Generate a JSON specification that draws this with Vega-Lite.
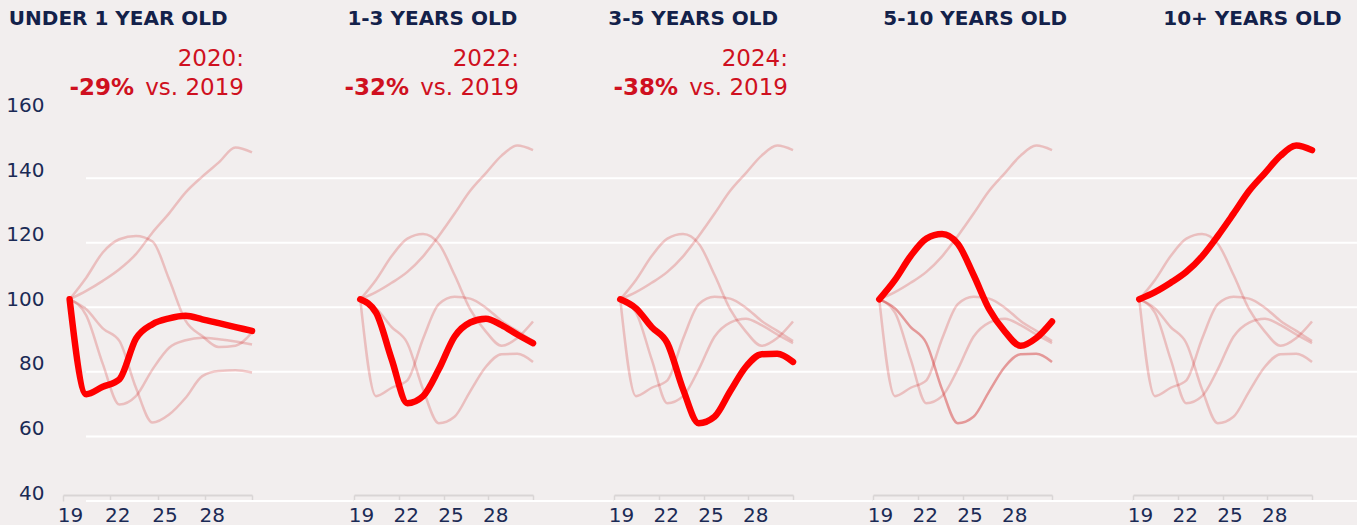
{
  "$schema": "https://vega.github.io/schema/vega-lite/v6.json",
  "background": "#F2EEEE",
  "padding": {"left": 5, "top": 9, "right": 0, "bottom": 0},
  "bounds": "flush",
  "spacing": 0,
  "config": {
    "view": {"stroke": null},
    "font": "DejaVu Sans",
    "title": {"anchor": "start", "font": "DejaVu Sans", "fontSize": 20, "fontWeight": "bold", "color": "#13214A", "offset": 12, "baseline": "alphabetic", "frame": "bounds"},
    "axisX": {"domainColor": "#D9D5D5", "domainWidth": 2, "tickColor": "#D9D5D5", "tickWidth": 1.5, "tickSize": 6, "labelFont": "DejaVu Sans", "labelFontSize": 20, "labelColor": "#1B2A55", "labelPadding": 4, "labelOffset": 7, "grid": false, "labelFlush": false, "labelOverlap": false, "labelBaseline": "top", "offset": 2},
    "axisY": {"domain": false, "ticks": false, "grid": false, "labelFont": "DejaVu Sans", "labelFontSize": 20, "labelColor": "#1B2A55", "labelPadding": 42, "labelFlush": false, "labelOverlap": false, "labelBaseline": "middle"}
  },
  "datasets": {
    "grid": [{"level": 40}, {"level": 60}, {"level": 80}, {"level": 100}, {"level": 120}, {"level": 140}],
    "notes": [
      {"age": "Under 1", "year": "2020:", "change": "-29%", "versus": "vs. 2019"},
      {"age": "1-3", "year": "2022:", "change": "-32%", "versus": "vs. 2019"},
      {"age": "3-5", "year": "2024:", "change": "-38%", "versus": "vs. 2019"}
    ],
    "p1": [
      {"age": "Under 1", "year": 2019, "index": 100}, {"age": "Under 1", "year": 2020, "index": 70.6}, {"age": "Under 1", "year": 2021, "index": 72.9}, {"age": "Under 1", "year": 2022, "index": 75.2}, {"age": "Under 1", "year": 2023, "index": 87.8}, {"age": "Under 1", "year": 2024, "index": 92.3}, {"age": "Under 1", "year": 2025, "index": 94.1}, {"age": "Under 1", "year": 2026, "index": 94.9}, {"age": "Under 1", "year": 2027, "index": 93.8}, {"age": "Under 1", "year": 2028, "index": 92.6}, {"age": "Under 1", "year": 2029, "index": 91.4}, {"age": "Under 1", "year": 2030, "index": 90.2},
      {"age": "1-3", "year": 2019, "index": 100}, {"age": "1-3", "year": 2020, "index": 95}, {"age": "1-3", "year": 2021, "index": 80}, {"age": "1-3", "year": 2022, "index": 67.4}, {"age": "1-3", "year": 2023, "index": 70}, {"age": "1-3", "year": 2024, "index": 78.3}, {"age": "1-3", "year": 2025, "index": 85}, {"age": "1-3", "year": 2026, "index": 87.3}, {"age": "1-3", "year": 2027, "index": 88.1}, {"age": "1-3", "year": 2028, "index": 87.6}, {"age": "1-3", "year": 2029, "index": 86.9}, {"age": "1-3", "year": 2030, "index": 86},
      {"age": "3-5", "year": 2019, "index": 100}, {"age": "3-5", "year": 2020, "index": 96.9}, {"age": "3-5", "year": 2021, "index": 91}, {"age": "3-5", "year": 2022, "index": 87.1}, {"age": "3-5", "year": 2023, "index": 72.6}, {"age": "3-5", "year": 2024, "index": 61.8}, {"age": "3-5", "year": 2025, "index": 64.3}, {"age": "3-5", "year": 2026, "index": 69.5}, {"age": "3-5", "year": 2027, "index": 76.2}, {"age": "3-5", "year": 2028, "index": 77.8}, {"age": "3-5", "year": 2029, "index": 78}, {"age": "3-5", "year": 2030, "index": 77.3},
      {"age": "5-10", "year": 2019, "index": 100}, {"age": "5-10", "year": 2020, "index": 106.7}, {"age": "5-10", "year": 2021, "index": 114.5}, {"age": "5-10", "year": 2022, "index": 118.6}, {"age": "5-10", "year": 2023, "index": 119.6}, {"age": "5-10", "year": 2024, "index": 117.9}, {"age": "5-10", "year": 2025, "index": 106.2}, {"age": "5-10", "year": 2026, "index": 93.3}, {"age": "5-10", "year": 2027, "index": 88.6}, {"age": "5-10", "year": 2028, "index": 85.2}, {"age": "5-10", "year": 2029, "index": 85.6}, {"age": "5-10", "year": 2030, "index": 89.7},
      {"age": "10+", "year": 2019, "index": 100}, {"age": "10+", "year": 2020, "index": 102.6}, {"age": "10+", "year": 2021, "index": 105.7}, {"age": "10+", "year": 2022, "index": 109.3}, {"age": "10+", "year": 2023, "index": 114}, {"age": "10+", "year": 2024, "index": 120.7}, {"age": "10+", "year": 2025, "index": 126.6}, {"age": "10+", "year": 2026, "index": 133.1}, {"age": "10+", "year": 2027, "index": 138}, {"age": "10+", "year": 2028, "index": 142.4}, {"age": "10+", "year": 2029, "index": 147}, {"age": "10+", "year": 2030, "index": 145.5}
    ],
    "main": [
      {"age": "Under 1", "year": 2019, "index": 100}, {"age": "Under 1", "year": 2020, "index": 70}, {"age": "Under 1", "year": 2021, "index": 72.6}, {"age": "Under 1", "year": 2022, "index": 74.9}, {"age": "Under 1", "year": 2023, "index": 87.8}, {"age": "Under 1", "year": 2024, "index": 98.5}, {"age": "Under 1", "year": 2025, "index": 100.8}, {"age": "Under 1", "year": 2026, "index": 100.2}, {"age": "Under 1", "year": 2027, "index": 97.4}, {"age": "Under 1", "year": 2028, "index": 93.3}, {"age": "Under 1", "year": 2029, "index": 90.2}, {"age": "Under 1", "year": 2030, "index": 87.1},
      {"age": "1-3", "year": 2019, "index": 100}, {"age": "1-3", "year": 2020, "index": 95.9}, {"age": "1-3", "year": 2021, "index": 81.4}, {"age": "1-3", "year": 2022, "index": 67.8}, {"age": "1-3", "year": 2023, "index": 70}, {"age": "1-3", "year": 2024, "index": 78.3}, {"age": "1-3", "year": 2025, "index": 88.4}, {"age": "1-3", "year": 2026, "index": 92.8}, {"age": "1-3", "year": 2027, "index": 94}, {"age": "1-3", "year": 2028, "index": 92}, {"age": "1-3", "year": 2029, "index": 89.1}, {"age": "1-3", "year": 2030, "index": 86.4},
      {"age": "3-5", "year": 2019, "index": 100}, {"age": "3-5", "year": 2020, "index": 97.2}, {"age": "3-5", "year": 2021, "index": 91.4}, {"age": "3-5", "year": 2022, "index": 86.4}, {"age": "3-5", "year": 2023, "index": 72.1}, {"age": "3-5", "year": 2024, "index": 61.6}, {"age": "3-5", "year": 2025, "index": 63.6}, {"age": "3-5", "year": 2026, "index": 71.5}, {"age": "3-5", "year": 2027, "index": 79.1}, {"age": "3-5", "year": 2028, "index": 83}, {"age": "3-5", "year": 2029, "index": 83.1}, {"age": "3-5", "year": 2030, "index": 80.6},
      {"age": "5-10", "year": 2019, "index": 100}, {"age": "5-10", "year": 2020, "index": 106}, {"age": "5-10", "year": 2021, "index": 113.4}, {"age": "5-10", "year": 2022, "index": 118.8}, {"age": "5-10", "year": 2023, "index": 120.2}, {"age": "5-10", "year": 2024, "index": 117.2}, {"age": "5-10", "year": 2025, "index": 107.6}, {"age": "5-10", "year": 2026, "index": 96.9}, {"age": "5-10", "year": 2027, "index": 90}, {"age": "5-10", "year": 2028, "index": 85.6}, {"age": "5-10", "year": 2029, "index": 88}, {"age": "5-10", "year": 2030, "index": 93.1},
      {"age": "10+", "year": 2019, "index": 100}, {"age": "10+", "year": 2020, "index": 102.2}, {"age": "10+", "year": 2021, "index": 105.1}, {"age": "10+", "year": 2022, "index": 108.5}, {"age": "10+", "year": 2023, "index": 113.3}, {"age": "10+", "year": 2024, "index": 119.6}, {"age": "10+", "year": 2025, "index": 126.5}, {"age": "10+", "year": 2026, "index": 133.6}, {"age": "10+", "year": 2027, "index": 139.1}, {"age": "10+", "year": 2028, "index": 144.5}, {"age": "10+", "year": 2029, "index": 147.6}, {"age": "10+", "year": 2030, "index": 146.2}
    ]
  },
  "hconcat": [
    {
      "width": 268, "height": 452,
      "title": {"text": "UNDER 1 YEAR OLD", "dx": 3},
      "layer": [
        {"data": {"name": "grid"}, "mark": {"type": "rule", "color": "#FFFFFF", "strokeWidth": 2, "yOffset": 8},
         "encoding": {"y": {"field": "level", "type": "quantitative", "title": null, "scale": {"domain": [40, 180], "nice": false}, "axis": {"values": [40, 60, 80, 100, 120, 140, 160]}}}},
        {"data": {"name": "p1"}, "mark": {"type": "line", "interpolate": "monotone", "color": "#D32F2F", "opacity": 0.25, "strokeWidth": 2.5},
         "encoding": {"x": {"field": "year", "type": "quantitative", "title": null, "scale": {"domain": [2018.6, 2030], "range": [-23, 166], "nice": false}, "axis": {"values": [2018.6, 2021.45, 2024.3, 2027.15, 2030], "labelExpr": "datum.value > 2029 ? '' : '' + (ceil(datum.value) - 2000)"}},
                      "y": {"field": "index", "type": "quantitative", "title": null}, "detail": {"field": "age"}}},
        {"data": {"name": "p1"}, "transform": [{"filter": "datum.age === 'Under 1'"}], "mark": {"type": "line", "interpolate": "monotone", "color": "#FF0000", "strokeWidth": 6.5, "strokeCap": "round", "strokeJoin": "round"},
         "encoding": {"x": {"field": "year", "type": "quantitative", "title": null}, "y": {"field": "index", "type": "quantitative", "title": null}}},
        {"data": {"name": "notes"}, "transform": [{"filter": "datum.age === 'Under 1'"}], "mark": {"type": "text", "align": "right", "baseline": "alphabetic", "dx": -8, "fontSize": 23, "color": "#CF1020"},
         "encoding": {"x": {"datum": 2030, "type": "quantitative"}, "y": {"datum": 172.4, "type": "quantitative"}, "text": {"field": "year"}}},
        {"data": {"name": "notes"}, "transform": [{"filter": "datum.age === 'Under 1'"}], "mark": {"type": "text", "align": "right", "baseline": "alphabetic", "dx": -8, "fontSize": 23, "color": "#CF1020"},
         "encoding": {"x": {"datum": 2030, "type": "quantitative"}, "y": {"datum": 163.4, "type": "quantitative"}, "text": {"field": "versus"}}},
        {"data": {"name": "notes"}, "transform": [{"filter": "datum.age === 'Under 1'"}], "mark": {"type": "text", "align": "right", "baseline": "alphabetic", "dx": -118, "fontSize": 23, "fontWeight": "bold", "color": "#CF1020"},
         "encoding": {"x": {"datum": 2030, "type": "quantitative"}, "y": {"datum": 163.4, "type": "quantitative"}, "text": {"field": "change"}}}
      ]
    },
    {
      "width": 260, "height": 452,
      "title": {"text": "1-3 YEARS OLD", "dx": 3},
      "layer": [
        {"data": {"name": "grid"}, "mark": {"type": "rule", "color": "#FFFFFF", "strokeWidth": 2, "yOffset": 8},
         "encoding": {"y": {"field": "level", "type": "quantitative", "title": null, "scale": {"domain": [40, 180], "nice": false}, "axis": null}}},
        {"data": {"name": "main"}, "mark": {"type": "line", "interpolate": "monotone", "color": "#D32F2F", "opacity": 0.25, "strokeWidth": 2.5},
         "encoding": {"x": {"field": "year", "type": "quantitative", "title": null, "scale": {"domain": [2018.6, 2030], "range": [0, 179], "nice": false}, "axis": {"values": [2018.6, 2021.45, 2024.3, 2027.15, 2030], "labelExpr": "datum.value > 2029 ? '' : '' + (ceil(datum.value) - 2000)"}},
                      "y": {"field": "index", "type": "quantitative", "title": null, "axis": null}, "detail": {"field": "age"}}},
        {"data": {"name": "main"}, "transform": [{"filter": "datum.age === '1-3'"}], "mark": {"type": "line", "interpolate": "monotone", "color": "#FF0000", "strokeWidth": 6.5, "strokeCap": "round", "strokeJoin": "round"},
         "encoding": {"x": {"field": "year", "type": "quantitative", "title": null}, "y": {"field": "index", "type": "quantitative", "title": null, "axis": null}}},
        {"data": {"name": "notes"}, "transform": [{"filter": "datum.age === '1-3'"}], "mark": {"type": "text", "align": "right", "baseline": "alphabetic", "dx": -14, "fontSize": 23, "color": "#CF1020"},
         "encoding": {"x": {"datum": 2030, "type": "quantitative"}, "y": {"datum": 172.4, "type": "quantitative", "axis": null}, "text": {"field": "year"}}},
        {"data": {"name": "notes"}, "transform": [{"filter": "datum.age === '1-3'"}], "mark": {"type": "text", "align": "right", "baseline": "alphabetic", "dx": -14, "fontSize": 23, "color": "#CF1020"},
         "encoding": {"x": {"datum": 2030, "type": "quantitative"}, "y": {"datum": 163.4, "type": "quantitative", "axis": null}, "text": {"field": "versus"}}},
        {"data": {"name": "notes"}, "transform": [{"filter": "datum.age === '1-3'"}], "mark": {"type": "text", "align": "right", "baseline": "alphabetic", "dx": -124, "fontSize": 23, "fontWeight": "bold", "color": "#CF1020"},
         "encoding": {"x": {"datum": 2030, "type": "quantitative"}, "y": {"datum": 163.4, "type": "quantitative", "axis": null}, "text": {"field": "change"}}}
      ]
    },
    {
      "width": 259, "height": 452,
      "title": {"text": "3-5 YEARS OLD", "dx": 0},
      "layer": [
        {"data": {"name": "grid"}, "mark": {"type": "rule", "color": "#FFFFFF", "strokeWidth": 2, "yOffset": 8},
         "encoding": {"y": {"field": "level", "type": "quantitative", "title": null, "scale": {"domain": [40, 180], "nice": false}, "axis": null}}},
        {"data": {"name": "main"}, "mark": {"type": "line", "interpolate": "monotone", "color": "#D32F2F", "opacity": 0.25, "strokeWidth": 2.5},
         "encoding": {"x": {"field": "year", "type": "quantitative", "title": null, "scale": {"domain": [2018.6, 2030], "range": [0, 179], "nice": false}, "axis": {"values": [2018.6, 2021.45, 2024.3, 2027.15, 2030], "labelExpr": "datum.value > 2029 ? '' : '' + (ceil(datum.value) - 2000)"}},
                      "y": {"field": "index", "type": "quantitative", "title": null, "axis": null}, "detail": {"field": "age"}}},
        {"data": {"name": "main"}, "transform": [{"filter": "datum.age === '3-5'"}], "mark": {"type": "line", "interpolate": "monotone", "color": "#FF0000", "strokeWidth": 6.5, "strokeCap": "round", "strokeJoin": "round"},
         "encoding": {"x": {"field": "year", "type": "quantitative", "title": null}, "y": {"field": "index", "type": "quantitative", "title": null, "axis": null}}},
        {"data": {"name": "notes"}, "transform": [{"filter": "datum.age === '3-5'"}], "mark": {"type": "text", "align": "right", "baseline": "alphabetic", "dx": -5, "fontSize": 23, "color": "#CF1020"},
         "encoding": {"x": {"datum": 2030, "type": "quantitative"}, "y": {"datum": 172.4, "type": "quantitative", "axis": null}, "text": {"field": "year"}}},
        {"data": {"name": "notes"}, "transform": [{"filter": "datum.age === '3-5'"}], "mark": {"type": "text", "align": "right", "baseline": "alphabetic", "dx": -5, "fontSize": 23, "color": "#CF1020"},
         "encoding": {"x": {"datum": 2030, "type": "quantitative"}, "y": {"datum": 163.4, "type": "quantitative", "axis": null}, "text": {"field": "versus"}}},
        {"data": {"name": "notes"}, "transform": [{"filter": "datum.age === '3-5'"}], "mark": {"type": "text", "align": "right", "baseline": "alphabetic", "dx": -115, "fontSize": 23, "fontWeight": "bold", "color": "#CF1020"},
         "encoding": {"x": {"datum": 2030, "type": "quantitative"}, "y": {"datum": 163.4, "type": "quantitative", "axis": null}, "text": {"field": "change"}}}
      ]
    },
    {
      "width": 260, "height": 452,
      "title": {"text": "5-10 YEARS OLD", "dx": 16},
      "layer": [
        {"data": {"name": "grid"}, "mark": {"type": "rule", "color": "#FFFFFF", "strokeWidth": 2, "yOffset": 8},
         "encoding": {"y": {"field": "level", "type": "quantitative", "title": null, "scale": {"domain": [40, 180], "nice": false}, "axis": null}}},
        {"data": {"name": "main"}, "mark": {"type": "line", "interpolate": "monotone", "color": "#D32F2F", "strokeWidth": 2.5},
         "encoding": {"x": {"field": "year", "type": "quantitative", "title": null, "scale": {"domain": [2018.6, 2030], "range": [0, 179], "nice": false}, "axis": {"values": [2018.6, 2021.45, 2024.3, 2027.15, 2030], "labelExpr": "datum.value > 2029 ? '' : '' + (ceil(datum.value) - 2000)"}},
                      "y": {"field": "index", "type": "quantitative", "title": null, "axis": null}, "detail": {"field": "age"},
                      "opacity": {"condition": {"test": "datum.age === '3-5'", "value": 0.45}, "value": 0.25}}},
        {"data": {"name": "main"}, "transform": [{"filter": "datum.age === '5-10'"}], "mark": {"type": "line", "interpolate": "monotone", "color": "#FF0000", "strokeWidth": 6.5, "strokeCap": "round", "strokeJoin": "round"},
         "encoding": {"x": {"field": "year", "type": "quantitative", "title": null}, "y": {"field": "index", "type": "quantitative", "title": null, "axis": null}}}
      ]
    },
    {
      "width": 225, "height": 452,
      "title": {"text": "10+ YEARS OLD", "dx": 36},
      "layer": [
        {"data": {"name": "grid"}, "mark": {"type": "rule", "color": "#FFFFFF", "strokeWidth": 2, "yOffset": 8},
         "encoding": {"y": {"field": "level", "type": "quantitative", "title": null, "scale": {"domain": [40, 180], "nice": false}, "axis": null}}},
        {"data": {"name": "main"}, "mark": {"type": "line", "interpolate": "monotone", "color": "#D32F2F", "opacity": 0.25, "strokeWidth": 2.5},
         "encoding": {"x": {"field": "year", "type": "quantitative", "title": null, "scale": {"domain": [2018.6, 2030], "range": [0, 179], "nice": false}, "axis": {"values": [2018.6, 2021.45, 2024.3, 2027.15, 2030], "labelExpr": "datum.value > 2029 ? '' : '' + (ceil(datum.value) - 2000)"}},
                      "y": {"field": "index", "type": "quantitative", "title": null, "axis": null}, "detail": {"field": "age"}}},
        {"data": {"name": "main"}, "transform": [{"filter": "datum.age === '10+'"}], "mark": {"type": "line", "interpolate": "monotone", "color": "#FF0000", "strokeWidth": 6.5, "strokeCap": "round", "strokeJoin": "round"},
         "encoding": {"x": {"field": "year", "type": "quantitative", "title": null}, "y": {"field": "index", "type": "quantitative", "title": null, "axis": null}}}
      ]
    }
  ]
}
